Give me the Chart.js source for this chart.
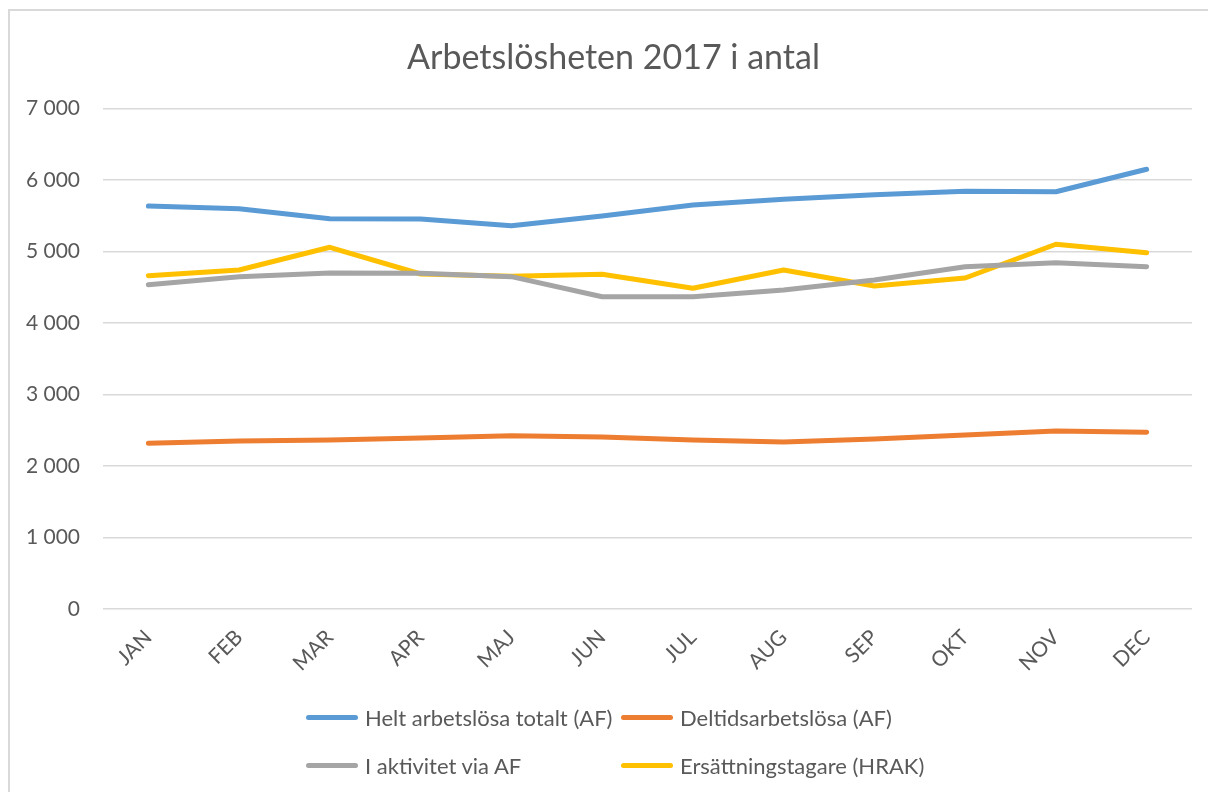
<!DOCTYPE html>
<html>
<head>
<meta charset="utf-8">
<script src="https://cdn.jsdelivr.net/npm/chart.js@4/dist/chart.umd.min.js"></script>
<style>
  body { margin: 0; background: #fff; }
  #wrap { position: relative; width: 1208px; height: 792px; overflow: hidden; }
  #frame { position: absolute; left: 8px; top: 9px; width: 1300px; height: 900px;
           border-left: 2px solid #d9d9d9; border-top: 2px solid #d9d9d9; }
  canvas { position: absolute; left: 0; top: 0; }
  #title { position: absolute; left: 0; top: 35px; width: 1227px; text-align: center;
           font-family: Lato, sans-serif; font-size: 34px; line-height: 41px; color: #595959; }
  .leg { position: absolute; font-family: Lato, sans-serif; font-size: 22px; color: #595959;
         display: flex; align-items: center; white-space: nowrap; }
  .leg span.ln { display: inline-block; width: 52px; height: 5px; border-radius: 3px; margin-right: 7px; }
</style>
</head>
<body>
<div id="wrap">
  <div id="frame"></div>
  <canvas id="chart" width="1208" height="792"></canvas>
  <div id="title">Arbetslösheten 2017 i antal</div>
  <div id="legend"></div>
</div>
<script>
var chartColors = {
    blue: '#5B9BD5',
    orange: '#ED7D31',
    grey: '#A5A5A5',
    yellow: '#FFC000'
};

var months = ['JAN', 'FEB', 'MAR', 'APR', 'MAJ', 'JUN', 'JUL', 'AUG', 'SEP', 'OKT', 'NOV', 'DEC'];

var heltArbetslosa = [5636, 5599, 5459, 5455, 5361, 5497, 5650, 5730, 5794, 5842, 5836, 6150];
var deltidsArbetslosa = [2317, 2350, 2364, 2392, 2424, 2406, 2364, 2336, 2378, 2434, 2490, 2471];
var iAktivitet = [4536, 4648, 4699, 4695, 4648, 4368, 4368, 4462, 4601, 4787, 4843, 4787];
var ersattningstagare = [4662, 4741, 5059, 4685, 4653, 4681, 4485, 4741, 4517, 4629, 5101, 4983];

var seriesNames = ['Helt arbetslösa totalt (AF)', 'Deltidsarbetslösa (AF)', 'I aktivitet via AF', 'Ersättningstagare (HRAK)'];

var textColor = '#595959';
var fontFamily = 'Lato, sans-serif';

function makeSet(label, color, data) {
    return {
        label: label,
        data: data,
        borderColor: color,
        backgroundColor: color,
        borderWidth: 5,
        borderCapStyle: 'round',
        borderJoinStyle: 'round',
        pointRadius: 0,
        tension: 0,
        fill: false
    };
}

var ctx = document.getElementById('chart').getContext('2d');
var chart = new Chart(ctx, {
    type: 'line',
    data: {
        labels: months,
        datasets: [
            makeSet(seriesNames[0], chartColors.blue, heltArbetslosa),
            makeSet(seriesNames[1], chartColors.orange, deltidsArbetslosa),
            makeSet(seriesNames[2], chartColors.grey, iAktivitet),
            makeSet(seriesNames[3], chartColors.yellow, ersattningstagare)
        ]
    },
    options: {
        responsive: false,
        devicePixelRatio: 1,
        animation: false,
        layout: { padding: { left: 19, right: 16, top: 108.5, bottom: 100 } },
        plugins: {
            legend: { display: false },
            tooltip: { enabled: false },
            title: { display: false }
        },
        scales: {
            x: {
                offset: true,
                grid: { display: false, drawTicks: false },
                border: { display: false },
                ticks: {
                    color: textColor,
                    font: { family: fontFamily, size: 21 },
                    minRotation: 45,
                    maxRotation: 45,
                    padding: 16
                },
                afterFit: function (scale) { scale.height = 83; }
            },
            y: {
                min: 0,
                max: 7000,
                grid: { color: '#d9d9d9', lineWidth: 1.5, drawTicks: false },
                border: { display: false },
                ticks: {
                    stepSize: 1000,
                    color: textColor,
                    padding: 23,
                    font: { family: fontFamily, size: 21 },
                    callback: function (v) {
                        return String(v).replace(/\B(?=(\d{3})+(?!\d))/g, ' ');
                    }
                },
                afterFit: function (scale) { scale.width = 84; }
            }
        }
    }
});

// legend in two aligned columns, like the original
var legendPos = [
    { left: 306, top: 704 },
    { left: 621, top: 704 },
    { left: 306, top: 752 },
    { left: 621, top: 752 }
];
var legendColors = [chartColors.blue, chartColors.orange, chartColors.grey, chartColors.yellow];
var legendDiv = document.getElementById('legend');
for (var i = 0; i < seriesNames.length; i++) {
    var item = document.createElement('div');
    item.className = 'leg';
    item.style.left = legendPos[i].left + 'px';
    item.style.top = legendPos[i].top + 'px';
    item.innerHTML = '<span class="ln" style="background:' + legendColors[i] + '"></span>' + seriesNames[i];
    legendDiv.appendChild(item);
}
</script>
</body>
</html>
